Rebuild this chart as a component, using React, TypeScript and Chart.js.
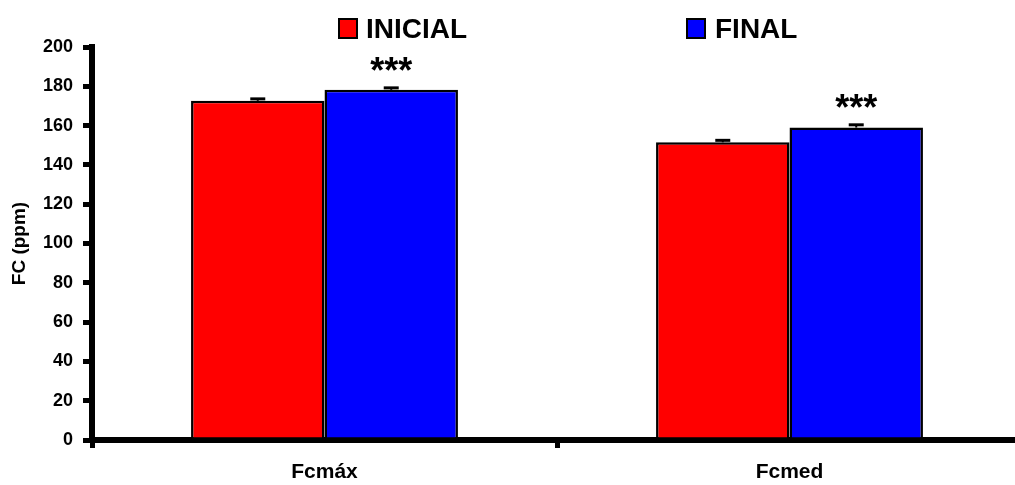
import React, { useEffect, useRef } from "react";
import { Chart, registerables } from "chart.js";

Chart.register(...registerables);

const categories = ["Fcmáx", "Fcmed"];
const seriesNames = ["INICIAL", "FINAL"];
const seriesColors = ["#FF0000", "#0000FF"];
const inicialValues = [172.6, 151.5];
const finalValues = [178.2, 159.0];
const inicialErrors = [1.0, 1.0];
const finalErrors = [1.0, 1.4];
const inicialMarks = ["", ""];
const finalMarks = ["***", "***"];
const yMin = 0;
const yMax = 200;
const yStep = 20;
const yTitle = "FC (ppm)";

const FONT = "'Liberation Sans', Arial, Helvetica, sans-serif";

const errorBarPlugin = {
  id: "errorBars",
  afterDatasetsDraw(chart: any) {
    const ctx = chart.ctx;
    const y = chart.scales.y;
    chart.data.datasets.forEach((ds: any, di: number) => {
      const meta = chart.getDatasetMeta(di);
      meta.data.forEach((bar: any, i: number) => {
        const v = ds.data[i];
        const e = ds.errors[i];
        const yVal = y.getPixelForValue(v);
        const yTop = y.getPixelForValue(v + e);
        ctx.save();
        ctx.strokeStyle = "#000";
        ctx.lineWidth = 2;
        ctx.beginPath();
        ctx.moveTo(bar.x, yVal);
        ctx.lineTo(bar.x, yTop);
        ctx.stroke();
        ctx.lineWidth = 3;
        ctx.beginPath();
        ctx.moveTo(bar.x - 7.5, yTop);
        ctx.lineTo(bar.x + 7.5, yTop);
        ctx.stroke();
        const mark = ds.marks[i];
        if (mark) {
          ctx.fillStyle = "#000";
          ctx.font = `bold 36px ${FONT}`;
          ctx.textAlign = "center";
          ctx.textBaseline = "alphabetic";
          ctx.fillText(mark, bar.x, yTop - 5);
        }
        ctx.restore();
      });
    });
  },
};

export default function App() {
  const canvasRef = useRef<HTMLCanvasElement | null>(null);

  useEffect(() => {
    const canvas = canvasRef.current;
    if (!canvas) return;
    const chart = new Chart(canvas, {
      type: "bar",
      data: {
        labels: categories,
        datasets: [
          {
            label: seriesNames[0],
            data: inicialValues,
            errors: inicialErrors,
            marks: inicialMarks,
            backgroundColor: seriesColors[0],
            borderColor: "#000",
            borderWidth: 2.5,
            categoryPercentage: 0.574,
            barPercentage: 1,
          } as any,
          {
            label: seriesNames[1],
            data: finalValues,
            errors: finalErrors,
            marks: finalMarks,
            backgroundColor: seriesColors[1],
            borderColor: "#000",
            borderWidth: 2.5,
            categoryPercentage: 0.574,
            barPercentage: 1,
          } as any,
        ],
      },
      options: {
        animation: false,
        responsive: false,
        maintainAspectRatio: false,
        layout: { padding: { top: 47, right: 8, left: 0, bottom: 0 } },
        plugins: {
          legend: { display: false },
          tooltip: { enabled: false },
        },
        scales: {
          x: {
            grid: {
              offset: true,
              drawOnChartArea: false,
              tickLength: 8,
              tickWidth: 5,
              tickColor: "#000",
              color: "#000",
              lineWidth: 5,
            },
            border: { display: true, color: "#000", width: 6 },
            ticks: {
              color: "#000",
              font: { family: FONT, weight: "bold", size: 21 },
              padding: 12,
            },
            afterFit: (scale: any) => {
              scale.height = 45;
            },
          },
          y: {
            min: yMin,
            max: yMax,
            ticks: {
              stepSize: yStep,
              color: "#000",
              font: { family: FONT, weight: "bold", size: 18 },
              padding: 10,
            },
            grid: {
              drawOnChartArea: false,
              tickLength: 9,
              tickWidth: 5,
              tickColor: "#000",
              color: "#000",
              lineWidth: 5,
            },
            border: { display: true, color: "#000", width: 6 },
            title: {
              display: true,
              text: yTitle,
              color: "#000",
              font: { family: FONT, weight: "bold", size: 19 },
              padding: { top: 8, bottom: 0 },
            },
            afterFit: (scale: any) => {
              scale.width = 92;
            },
          },
        },
      },
      plugins: [errorBarPlugin],
    });
    return () => chart.destroy();
  }, []);

  const legendLefts = [338, 686];

  return (
    <div
      style={{
        position: "absolute",
        left: 0,
        top: 0,
        width: 1015,
        height: 485,
        overflow: "hidden",
        background: "#fff",
      }}
    >
      <canvas
        ref={canvasRef}
        width={1030}
        height={485}
        style={{ position: "absolute", left: 0, top: 0, width: 1030, height: 485 }}
      />
      {seriesNames.map((name, i) => (
        <div
          key={name}
          style={{
            position: "absolute",
            left: legendLefts[i],
            top: 15,
            display: "flex",
            alignItems: "flex-start",
            fontFamily: FONT,
            fontWeight: "bold",
            fontSize: 28,
            lineHeight: "28px",
            color: "#000",
            whiteSpace: "nowrap",
          }}
        >
          <span
            style={{
              display: "inline-block",
              boxSizing: "border-box",
              width: 20,
              height: 21,
              marginTop: 3,
              background: seriesColors[i],
              border: "2.5px solid #000",
              marginRight: i === 0 ? 8 : 9,
            }}
          />
          <span>{name}</span>
        </div>
      ))}
    </div>
  );
}
